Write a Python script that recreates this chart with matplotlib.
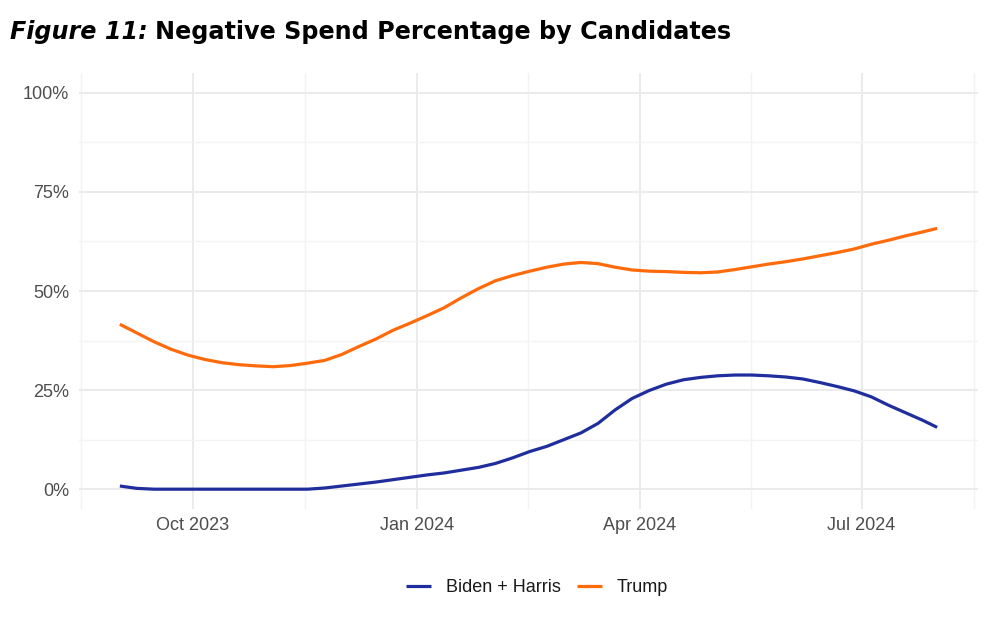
import matplotlib
matplotlib.use("Agg")
import matplotlib.pyplot as plt
import matplotlib.dates as mdates
from matplotlib.ticker import FuncFormatter, FixedLocator
import datetime as dt

# ---- data ----
dates = ["2023-09-01", "2023-09-08", "2023-09-15", "2023-09-22", "2023-09-29",
         "2023-10-06", "2023-10-13", "2023-10-20", "2023-10-27",
         "2023-11-03", "2023-11-10", "2023-11-17", "2023-11-24",
         "2023-12-01", "2023-12-08", "2023-12-15", "2023-12-22", "2023-12-29",
         "2024-01-05", "2024-01-12", "2024-01-19", "2024-01-26",
         "2024-02-02", "2024-02-09", "2024-02-16", "2024-02-23",
         "2024-03-01", "2024-03-08", "2024-03-15", "2024-03-22", "2024-03-29",
         "2024-04-05", "2024-04-12", "2024-04-19", "2024-04-26",
         "2024-05-03", "2024-05-10", "2024-05-17", "2024-05-24", "2024-05-31",
         "2024-06-07", "2024-06-14", "2024-06-21", "2024-06-28",
         "2024-07-05", "2024-07-12", "2024-07-19", "2024-07-26", "2024-08-01"]
biden_harris = [0.8, 0.2, 0.0, 0.0, 0.0, 0.0, 0.0, 0.0, 0.0, 0.0, 0.0, 0.0,
                0.3, 0.8, 1.3, 1.8, 2.4, 3.0, 3.6, 4.1, 4.8, 5.5,
                6.5, 7.9, 9.5, 10.8, 12.5, 14.2, 16.6, 20.0, 22.9, 24.9,
                26.5, 27.6, 28.2, 28.6, 28.8, 28.8, 28.6, 28.3, 27.8, 26.9,
                25.9, 24.8, 23.3, 21.2, 19.3, 17.4, 15.6]
trump = [41.6, 39.4, 37.2, 35.3, 33.8, 32.7, 31.9, 31.4, 31.1, 30.9,
         31.2, 31.8, 32.5, 34.0, 36.0, 37.9, 40.1, 41.9, 43.8, 45.8,
         48.3, 50.6, 52.6, 53.9, 55.0, 56.0, 56.8, 57.2, 56.9, 56.0,
         55.3, 55.0, 54.9, 54.7, 54.6, 54.8, 55.4, 56.1, 56.8, 57.4,
         58.1, 58.9, 59.7, 60.6, 61.8, 62.8, 63.9, 64.9, 65.8]
series_names = ["Biden + Harris", "Trump"]
y_ticks = [0, 25, 50, 75, 100]
x_tick_dates = ["2023-10-01", "2024-01-01", "2024-04-01", "2024-07-01"]
x_tick_labels = ["Oct 2023", "Jan 2024", "Apr 2024", "Jul 2024"]

colors = ["#1F2E9C", "#FF6A0A"]

x = [dt.datetime.strptime(d, "%Y-%m-%d") for d in dates]

W, H = 989, 620
fig = plt.figure(figsize=(W / 100, H / 100), dpi=100)
fig.patch.set_facecolor("white")

L, R, T, B = 79, 978, 73, 509
ax = fig.add_axes([L / W, 1 - B / H, (R - L) / W, (B - T) / H])
ax.set_facecolor("white")
for s in ax.spines.values():
    s.set_visible(False)

ax.plot(x, biden_harris, color=colors[0], lw=2.3, label=series_names[0],
        solid_capstyle="butt", solid_joinstyle="round", zorder=3)
ax.plot(x, trump, color=colors[1], lw=2.3, label=series_names[1],
        solid_capstyle="butt", solid_joinstyle="round", zorder=3)

ax.margins(x=0.05)
ax.set_ylim(-5, 105)

# major ticks
xt = [mdates.date2num(dt.datetime.strptime(d, "%Y-%m-%d")) for d in x_tick_dates]
ax.xaxis.set_major_locator(FixedLocator(xt))
ax.set_xticklabels(x_tick_labels)
ax.yaxis.set_major_locator(FixedLocator(y_ticks))
ax.yaxis.set_major_formatter(FuncFormatter(lambda v, p: f"{int(v)}%"))

# minor gridline positions: midpoints between majors (ggplot style)
ext = [xt[0] - 92] + xt + [xt[-1] + 92]
xminor = [(ext[i] + ext[i + 1]) / 2 for i in range(len(ext) - 1)]
ax.xaxis.set_minor_locator(FixedLocator(xminor))
ax.yaxis.set_minor_locator(FixedLocator([12.5, 37.5, 62.5, 87.5]))

ax.grid(which="major", color="#EBEBEB", lw=1.4, zorder=0)
ax.grid(which="minor", color="#F3F3F3", lw=1.0, zorder=0)
ax.tick_params(which="both", length=0)
ax.tick_params(axis="y", pad=7, labelsize=13, labelcolor="#4D4D4D")
ax.tick_params(axis="x", pad=6, labelsize=13, labelcolor="#4D4D4D")
for lab in ax.get_xticklabels() + ax.get_yticklabels():
    lab.set_fontfamily("Liberation Sans")

# legend
leg = fig.legend(loc="center", bbox_to_anchor=(537 / W, 1 - 588 / H), ncol=2,
                 frameon=False, prop={"family": "Liberation Sans", "size": 13},
                 handlelength=1.4, handletextpad=0.8, columnspacing=0.9)
for t in leg.get_texts():
    t.set_color("#1A1A1A")
for h in leg.get_lines():
    h.set_linewidth(2.3)

# title
t1 = fig.text(10 / W, 1 - 32 / H, "Figure 11:", fontsize=17.2, fontweight="bold",
              fontstyle="italic", family="DejaVu Sans", va="center", ha="left",
              color="black")
fig.canvas.draw()
bb = t1.get_window_extent()
fig.text((bb.x1 + 7) / W, 1 - 32 / H, "Negative Spend Percentage by Candidates",
         fontsize=17.2, fontweight="bold", family="DejaVu Sans", va="center",
         ha="left", color="black")

fig.savefig("out.png", dpi=100, facecolor="white")
